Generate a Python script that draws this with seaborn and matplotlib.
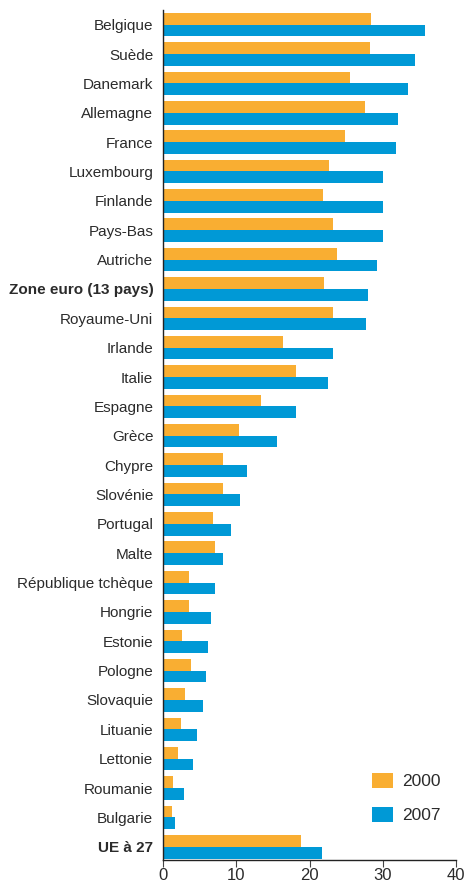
import pandas as pd
import numpy as np
import matplotlib
matplotlib.use("Agg")
import matplotlib.pyplot as plt
import seaborn as sns
from matplotlib import font_manager

sns.set_style("white")

# Font: narrow sans if available
names = {f.name for f in font_manager.fontManager.ttflist}
family = "Liberation Sans Narrow" if "Liberation Sans Narrow" in names else "Liberation Sans"
plt.rcParams["font.family"] = [family, "DejaVu Sans"]

countries = [
    "Belgique", "Suède", "Danemark", "Allemagne", "France", "Luxembourg",
    "Finlande", "Pays-Bas", "Autriche", "Zone euro (13 pays)", "Royaume-Uni",
    "Irlande", "Italie", "Espagne", "Grèce", "Chypre", "Slovénie", "Portugal",
    "Malte", "République tchèque", "Hongrie", "Estonie", "Pologne",
    "Slovaquie", "Lituanie", "Lettonie", "Roumanie", "Bulgarie", "UE à 27",
]
values_2000 = [28.4, 28.3, 25.5, 27.6, 24.9, 22.6, 21.9, 23.2, 23.8, 22.0,
               23.2, 16.4, 18.2, 13.4, 10.4, 8.2, 8.2, 6.8, 7.1, 3.5,
               3.5, 2.6, 3.8, 3.0, 2.5, 2.1, 1.3, 1.2, 18.8]
values_2007 = [35.7, 34.4, 33.5, 32.1, 31.8, 30.0, 30.0, 30.0, 29.2, 28.0,
               27.7, 23.2, 22.5, 18.2, 15.6, 11.5, 10.5, 9.3, 8.2, 7.1,
               6.6, 6.2, 5.9, 5.5, 4.7, 4.1, 2.8, 1.7, 21.7]
years = ["2000", "2007"]
bold_labels = ["Zone euro (13 pays)", "UE à 27"]

df = pd.DataFrame({
    "pays": countries * 2,
    "valeur": values_2000 + values_2007,
    "annee": [years[0]] * len(countries) + [years[1]] * len(countries),
})

colors = {"2000": "#F9AE32", "2007": "#0099D6"}

fig = plt.figure(figsize=(4.69, 8.83), dpi=100)
ax = fig.add_axes([163 / 469, 1 - 860 / 883, (456 - 163) / 469, 850 / 883])

sns.barplot(data=df, x="valeur", y="pays", hue="annee", order=countries,
            hue_order=years, palette=colors, width=0.8, saturation=1,
            linewidth=0, ax=ax)

ax.set_xlim(0, 40)
ax.set_ylim(len(countries) - 0.55, -0.5)
ax.set_xticks([0, 10, 20, 30, 40])
ax.set_xlabel("")
ax.set_ylabel("")

txt = "#2b2b2b"
for sp in ["top", "right"]:
    ax.spines[sp].set_visible(False)
for sp in ["left", "bottom"]:
    ax.spines[sp].set_color("#222222")
    ax.spines[sp].set_linewidth(1.0)

ax.tick_params(axis="x", direction="out", length=5, width=0.8, color="#444444",
               labelsize=12, labelcolor=txt, pad=1, bottom=True)
ax.tick_params(axis="y", length=0, labelsize=11, labelcolor=txt, pad=7)
for lab in ax.get_yticklabels():
    if lab.get_text() in bold_labels:
        lab.set_fontweight("bold")

leg = ax.legend(loc="lower right", bbox_to_anchor=(0.97, 0.035), frameon=False,
                fontsize=12.5, handlelength=1.2, handleheight=1.0,
                labelspacing=1.0, handletextpad=0.5, borderaxespad=0)
for t in leg.get_texts():
    t.set_color(txt)

fig.savefig("out.png", dpi=100)
